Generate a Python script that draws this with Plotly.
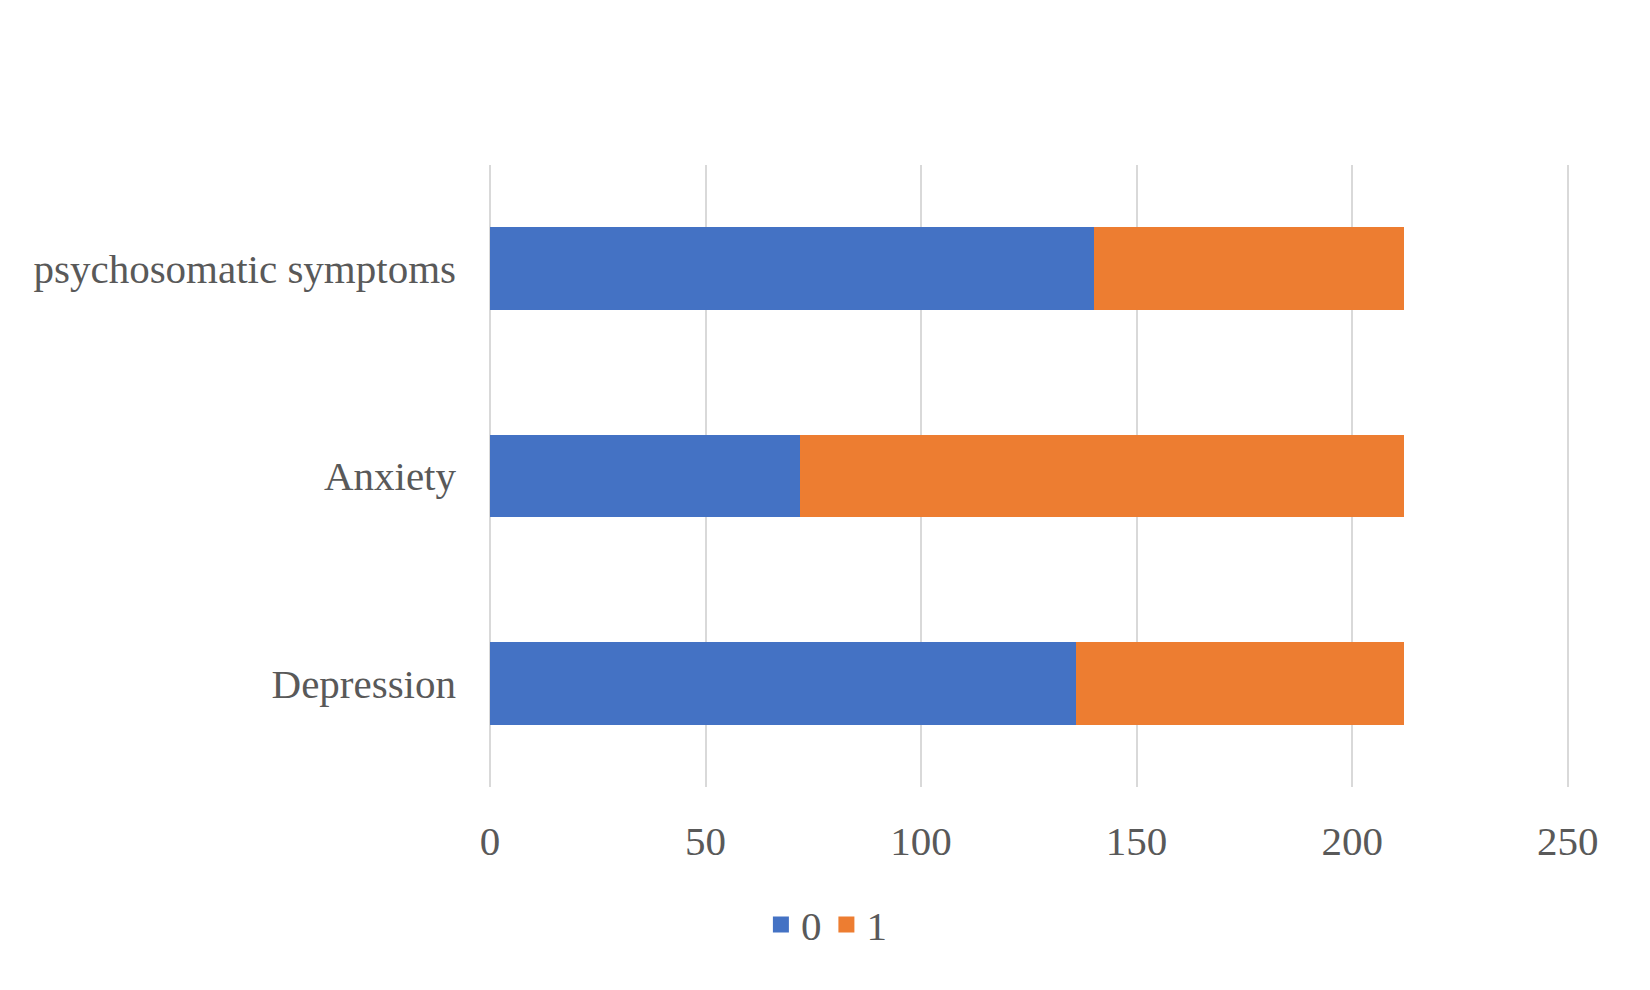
import plotly.graph_objects as go

categories = ["Depression", "Anxiety", "psychosomatic symptoms"]
series_0 = [136, 72, 140]
series_1 = [76, 140, 72]
x_ticks = [0, 50, 100, 150, 200, 250]
series_names = ["0", "1"]
series_colors = ["#4472C4", "#ED7D31"]

font_family = "Liberation Serif, Times New Roman, serif"
text_color = "#595959"

fig = go.Figure()
for name, vals, col in zip(series_names, [series_0, series_1], series_colors):
    fig.add_trace(go.Bar(y=categories, x=vals, name=name, orientation="h",
                         marker=dict(color=col, line=dict(width=0)),
                         showlegend=False))
for name, col in zip(series_names, series_colors):
    fig.add_trace(go.Scatter(x=[None], y=[None], mode="markers", name=name,
                             marker=dict(symbol="square", size=19, color=col),
                             showlegend=True))

fig.update_layout(
    width=1650, height=990,
    barmode="stack", bargap=0.6,
    paper_bgcolor="white", plot_bgcolor="white",
    margin=dict(l=482, r=86, t=157, b=211),
    font=dict(family=font_family, size=41, color=text_color),
    legend=dict(orientation="h", xref="container", yref="container",
                x=0.496, xanchor="center", y=0.074, yanchor="middle",
                traceorder="normal",
                font=dict(size=41, color=text_color), itemwidth=30),
    xaxis=dict(range=[0, 251], tickvals=x_ticks, showgrid=True,
               gridcolor="#D9D9D9", gridwidth=2, zeroline=True,
               zerolinecolor="#D9D9D9", zerolinewidth=2, showline=False,
               ticks="", ticklabelstandoff=26,
               tickfont=dict(size=41, color=text_color)),
    yaxis=dict(type="category", categoryorder="array", categoryarray=categories,
               showgrid=False, zeroline=False, showline=False, ticks="",
               ticklabelstandoff=33, tickfont=dict(size=41, color=text_color)),
)

fig.write_html("out.html")
